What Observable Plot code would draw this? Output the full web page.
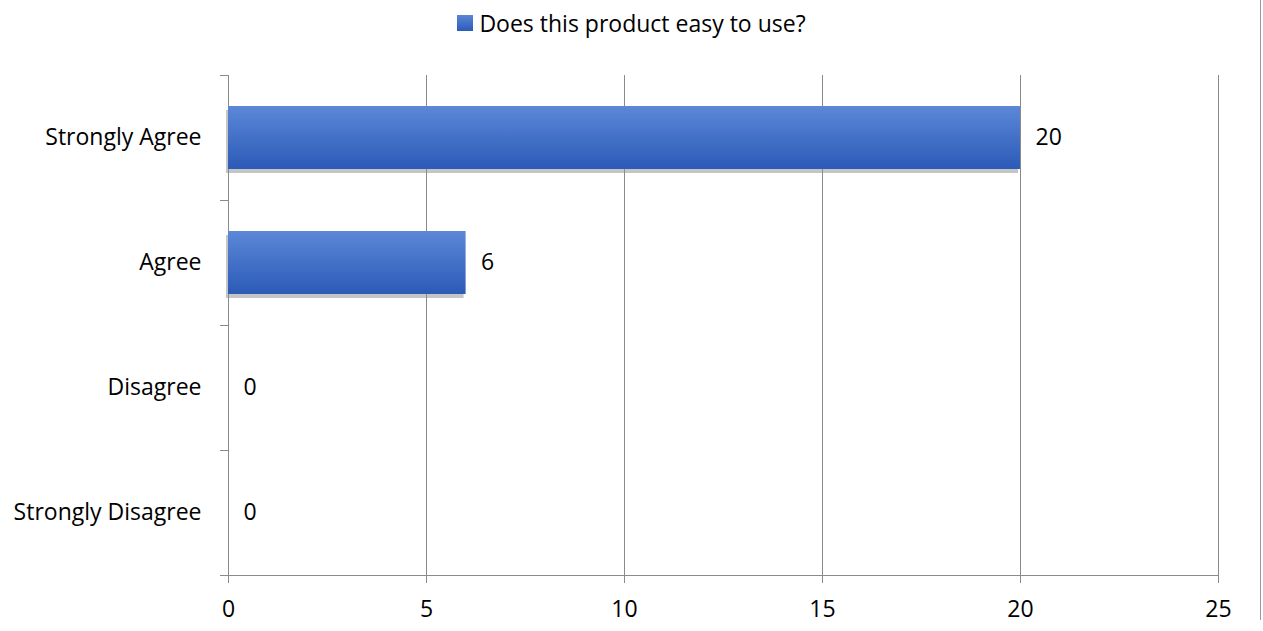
<!DOCTYPE html>
<html>
<head>
<meta charset="utf-8">
<script src="https://cdn.jsdelivr.net/npm/d3@7"></script>
<script src="https://cdn.jsdelivr.net/npm/@observablehq/plot@0.6"></script>
<style>
  html, body { margin: 0; padding: 0; background: #fff; }
  body { width: 1263px; height: 631px; position: relative; overflow: hidden; font-family: "Open Sans", sans-serif; }
  #legend { height: 45px; display: flex; align-items: center; justify-content: center; font-size: 23px; color: #000; box-sizing: border-box; }
  #legend .sw { width: 16px; height: 16px; background: linear-gradient(#5b86d6, #2c5bb8); margin-right: 6px; }
  #border { position: absolute; left: 1260px; top: 0; width: 1px; height: 620px; background: #999; }
</style>
</head>
<body>
<div id="legend"><span class="sw"></span><span id="series-name"></span></div>
<div id="chart"></div>
<div id="border"></div>
<script>
const categories = ["Strongly Agree", "Agree", "Disagree", "Strongly Disagree"];
const values = [20, 6, 0, 0];
const seriesName = "Does this product easy to use?";
const xTicks = [0, 5, 10, 15, 20, 25];

document.getElementById("series-name").textContent = seriesName;

const data = categories.map((c, i) => ({category: c, value: values[i]}));

const width = 1263, height = 586;
const marginTop = 30, marginBottom = 56, marginLeft = 228, marginRight = 45;

const plot = Plot.plot({
  width, height, marginTop, marginBottom, marginLeft, marginRight,
  style: {fontFamily: "Open Sans, sans-serif", fontSize: "23px", color: "#000", background: "#fff"},
  x: {domain: [0, 25], ticks: xTicks, label: null},
  y: {domain: categories, paddingInner: 0.5, paddingOuter: 0.25, label: null},
  marks: [
    Plot.ruleX(xTicks, {stroke: "#8a8a8a", strokeWidth: 1, insetBottom: -8}),
    Plot.barX(data, {y: "category", x: "value", fill: "#8c8c8c", fillOpacity: 0.5, dy: 4, dx: -2}),
    Plot.barX(data, {y: "category", x: "value", fill: "url(#barGrad)"}),
    Plot.text(data, {y: "category", x: "value", text: d => String(d.value), textAnchor: "start", dx: 15, fontSize: 23, fill: "#000"}),
    Plot.axisX({ticks: xTicks, tickSize: 0, tickPadding: 25, fontSize: 23, label: null}),
    Plot.axisY({tickSize: 0, tickPadding: 27, fontSize: 23, label: null})
  ]
});

const svg = d3.select(plot);
const defs = svg.insert("defs", ":first-child");
const g = defs.append("linearGradient").attr("id", "barGrad").attr("x1", 0).attr("y1", 0).attr("x2", 0).attr("y2", 1);
g.append("stop").attr("offset", "0%").attr("stop-color", "#5d88d8");
g.append("stop").attr("offset", "100%").attr("stop-color", "#2b5ab7");

// category boundary ticks and bottom axis line, derived from the scales
const xs = plot.scale("x"), ys = plot.scale("y");
const x0 = xs.apply(0), x25 = xs.apply(25);
const axisG = svg.append("g").attr("stroke", "#8a8a8a").attr("stroke-width", 1).attr("shape-rendering", "crispEdges");
const bandTop = ys.apply(categories[0]) - (ys.step - ys.bandwidth) / 2;
for (let i = 0; i <= categories.length; i++) {
  const yy = bandTop + i * ys.step;
  axisG.append("line").attr("x1", x0 - 8).attr("x2", x0).attr("y1", yy).attr("y2", yy);
}
const yBottom = bandTop + categories.length * ys.step;
axisG.append("line").attr("x1", x0 - 8).attr("x2", x25).attr("y1", yBottom).attr("y2", yBottom);

document.getElementById("chart").appendChild(plot);
</script>
</body>
</html>
